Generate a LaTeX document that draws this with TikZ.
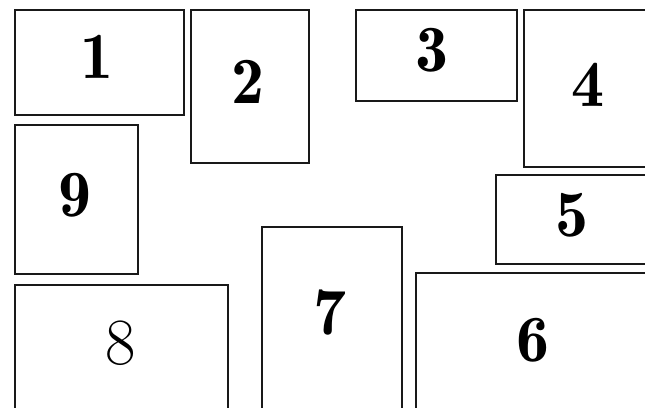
\documentclass[tikz,border=0pt]{standalone}
\usepackage{tikz}

\tikzset{
  panel/.style={draw=black!90, line width=2.8pt},
  num/.style={font=\fontsize{66}{66}\fontseries{b}\selectfont, inner sep=0pt},
  numlight/.style={font=\fontsize{66}{66}\selectfont, inner sep=0pt}
}

\begin{document}
\begin{tikzpicture}[x=1pt, y=-1pt]
  \useasboundingbox (0,0) rectangle (645,407);
  \clip (0,0) rectangle (645,407);

  % Riquadri
  \draw[panel] (15,10) rectangle (184,115);
  \draw[panel] (191,10) rectangle (309,163);
  \draw[panel] (356,10) rectangle (517,101);
  \draw[panel] (524,10) rectangle (660,167);
  \draw[panel] (496,175) rectangle (660,264);
  \draw[panel] (416,273) rectangle (660,420);
  \draw[panel] (262,227) rectangle (402,420);
  \draw[panel] (15,285) rectangle (228,420);
  \draw[panel] (15,125) rectangle (138,274);

  % Numeri
  \node[num] (n1) at (97,57)  {1};
  \node[num] (n2) at (248,82) {2};
  \node[num] (n3) at (432,50) {3};
  \node[num] (n4) at (588,85) {4};
  \node[num] (n5) at (572,215) {5};
  \node[num] (n6) at (533,340) {6};
  \node[num] (n7) at (330,313) {7};
  \node[numlight] (n8) at (121,343) {8};
  \node[num] (n9) at (75,195) {9};
\end{tikzpicture}
\end{document}
